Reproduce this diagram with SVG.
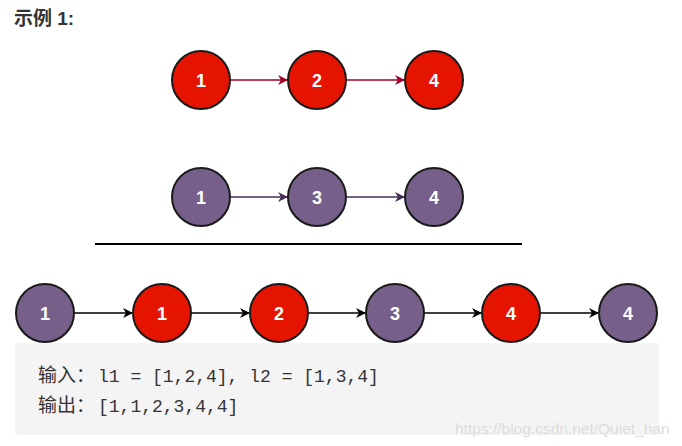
<svg xmlns="http://www.w3.org/2000/svg" width="682" height="446" viewBox="0 0 682 446">
<style>
.red{fill:#e51400;stroke:#1a1a1a;stroke-width:2}
.pur{fill:#76608a;stroke:#1a1a1a;stroke-width:2}
.lbl{font-family:"Liberation Sans",Arial,sans-serif;font-weight:bold;font-size:18px;fill:#ffffff;text-anchor:middle}
.code{font-family:"Liberation Mono","DejaVu Sans Mono","Noto Sans CJK SC",monospace;font-size:18px;fill:#333333}
.cjk{font-family:"Noto Sans CJK SC",serif;font-size:19px}
</style>
<defs>
<marker id="ar" markerWidth="10" markerHeight="10" refX="9" refY="5" orient="auto" markerUnits="userSpaceOnUse"><path d="M0,0 L10,5 L0,10 L3,5 Z" fill="#a20025"/></marker>
<marker id="ap" markerWidth="10" markerHeight="10" refX="9" refY="5" orient="auto" markerUnits="userSpaceOnUse"><path d="M0,0 L10,5 L0,10 L3,5 Z" fill="#432d57"/></marker>
<marker id="ab" markerWidth="10" markerHeight="10" refX="9" refY="5" orient="auto" markerUnits="userSpaceOnUse"><path d="M0,0 L10,5 L0,10 L3,5 Z" fill="#000000"/></marker>
</defs>
<rect width="682" height="446" fill="#ffffff"/>
<text x="14" y="25" font-family="'Liberation Sans','Noto Sans CJK SC',sans-serif" font-weight="bold" font-size="19" fill="#333333">示例 1:</text>
<rect x="15" y="343" width="644" height="92" rx="4" fill="#f4f4f4"/>
<line x1="95" y1="244" x2="522" y2="244" stroke="#000" stroke-width="2"/>
<g id="connectors">
<line x1="230" y1="80" x2="287" y2="80" stroke="#a20025" stroke-width="1.5" marker-end="url(#ar)"/>
<line x1="347" y1="80" x2="404" y2="80" stroke="#a20025" stroke-width="1.5" marker-end="url(#ar)"/>
<line x1="230" y1="197" x2="287" y2="197" stroke="#432d57" stroke-width="1.5" marker-end="url(#ap)"/>
<line x1="347" y1="197" x2="404" y2="197" stroke="#432d57" stroke-width="1.5" marker-end="url(#ap)"/>
<line x1="74" y1="313" x2="132" y2="313" stroke="#000" stroke-width="1.5" marker-end="url(#ab)"/>
<line x1="191" y1="313" x2="249" y2="313" stroke="#000" stroke-width="1.5" marker-end="url(#ab)"/>
<line x1="308" y1="313" x2="365" y2="313" stroke="#000" stroke-width="1.5" marker-end="url(#ab)"/>
<line x1="424" y1="313" x2="481" y2="313" stroke="#000" stroke-width="1.5" marker-end="url(#ab)"/>
<line x1="540" y1="313" x2="598" y2="313" stroke="#000" stroke-width="1.5" marker-end="url(#ab)"/>
</g>
<g id="a1"><circle class="red" cx="201" cy="80" r="29"/><text class="lbl" x="201" y="86.5">1</text></g>
<g id="a2"><circle class="red" cx="317" cy="80" r="29"/><text class="lbl" x="317" y="86.5">2</text></g>
<g id="a4"><circle class="red" cx="434" cy="80" r="29"/><text class="lbl" x="434" y="86.5">4</text></g>
<g id="b1"><circle class="pur" cx="201" cy="197" r="29"/><text class="lbl" x="201" y="203.5">1</text></g>
<g id="b3"><circle class="pur" cx="317" cy="197" r="29"/><text class="lbl" x="317" y="203.5">3</text></g>
<g id="b4"><circle class="pur" cx="434" cy="197" r="29"/><text class="lbl" x="434" y="203.5">4</text></g>
<g id="c1"><circle class="pur" cx="45" cy="313" r="29"/><text class="lbl" x="45" y="319.5">1</text></g>
<g id="c2"><circle class="red" cx="162" cy="313" r="29"/><text class="lbl" x="162" y="319.5">1</text></g>
<g id="c3"><circle class="red" cx="279" cy="313" r="29"/><text class="lbl" x="279" y="319.5">2</text></g>
<g id="c4"><circle class="pur" cx="395" cy="313" r="29"/><text class="lbl" x="395" y="319.5">3</text></g>
<g id="c5"><circle class="red" cx="511" cy="313" r="29"/><text class="lbl" x="511" y="319.5">4</text></g>
<g id="c6"><circle class="pur" cx="628" cy="313" r="29"/><text class="lbl" x="628" y="319.5">4</text></g>
<text class="code" x="38" y="382"><tspan class="cjk">输入：</tspan><tspan x="98">l1 = [1,2,4], l2 = [1,3,4]</tspan></text>
<text class="code" x="38" y="412"><tspan class="cjk">输出：</tspan><tspan x="98">[1,1,2,3,4,4]</tspan></text>
<text x="455" y="434" font-family="'Liberation Sans',Arial,sans-serif" font-size="15.5" fill="#dcdcdc">https://blog.csdn.net/Quiet_han</text>
</svg>
